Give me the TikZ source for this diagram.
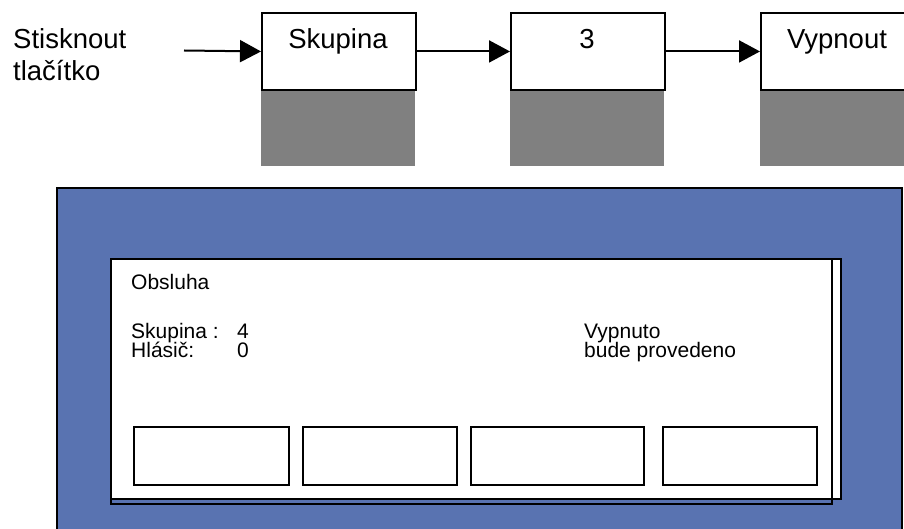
\documentclass[tikz,border=0pt]{standalone}
\usepackage{fontspec}
\setmainfont{Liberation Sans}
\usetikzlibrary{arrows.meta}
\definecolor{panelblue}{RGB}{89,115,177}
\definecolor{shadowgray}{RGB}{128,128,128}
\begin{document}
\begin{tikzpicture}[x=1pt,y=-1pt,
  topbox/.style={draw=black, line width=1.9pt, fill=white, minimum width=154pt, minimum height=77pt, inner sep=0pt, anchor=north west},
  shadowbox/.style={fill=shadowgray, minimum width=154pt, minimum height=77pt, inner sep=0pt, anchor=north west},
  toplabel/.style={font=\fontsize{27.5}{31}\selectfont, inner sep=0pt},
  paneltext/.style={font=\fontsize{21}{23}\selectfont, inner sep=0pt, anchor=base west},
  btn/.style={draw=black, line width=2pt, fill=white, minimum height=58pt, inner sep=0pt, anchor=north west},
  flow/.style={line width=2pt, -{Triangle[length=21pt,width=22pt]}}
]
\useasboundingbox (0,0) rectangle (904,529);
% top row
\node[toplabel, anchor=base west] (st1) at (13,49) {Stisknout};
\node[toplabel, anchor=base west] (st2) at (13,81) {tlačítko};
\node[shadowbox] (g1) at (261,89) {};
\node[shadowbox] (g2) at (510,89) {};
\node[shadowbox] (g3) at (760,89) {};
\node[topbox] (b1) at (261,12) {};
\node[topbox] (b2) at (510,12) {};
\node[topbox] (b3) at (760,12) {};
\node[toplabel, anchor=base] (l1) at (338,49) {Skupina};
\node[toplabel, anchor=base] (l2) at (587,49) {3};
\node[toplabel, anchor=base] (l3) at (837,49) {Vypnout};
\coordinate (start) at (184,50.5);
\draw[flow] (start) -- (b1.west);
\draw[flow] (b1.east) -- (b2.west);
\draw[flow] (b2.east) -- (b3.west);
% bottom panel
\node[draw=black, line width=2pt, fill=panelblue, minimum width=845pt, minimum height=360pt, inner sep=0pt, anchor=north west] (bg) at (56,187) {};
\node[draw=black, line width=2pt, fill=white, minimum width=730pt, minimum height=240pt, inner sep=0pt, anchor=north west] (sheet) at (110,258) {};
\node[draw=black, line width=2pt, minimum width=721pt, minimum height=245pt, inner sep=0pt, anchor=north west] (frame) at (110,258) {};
\node[paneltext] (t1) at (131,289) {Obsluha};
\node[paneltext] (t2) at (131,338) {Skupina :};
\node[paneltext] (t3) at (237,338) {4};
\node[paneltext] (t4) at (131,357) {Hlásič:};
\node[paneltext] (t5) at (237,357) {0};
\node[paneltext] (t6) at (584,338) {Vypnuto};
\node[paneltext] (t7) at (584,357) {bude provedeno};
\node[btn, minimum width=155pt] (k1) at (133,426) {};
\node[btn, minimum width=154pt] (k2) at (302,426) {};
\node[btn, minimum width=173pt] (k3) at (470,426) {};
\node[btn, minimum width=154pt] (k4) at (662,426) {};
\end{tikzpicture}
\end{document}
